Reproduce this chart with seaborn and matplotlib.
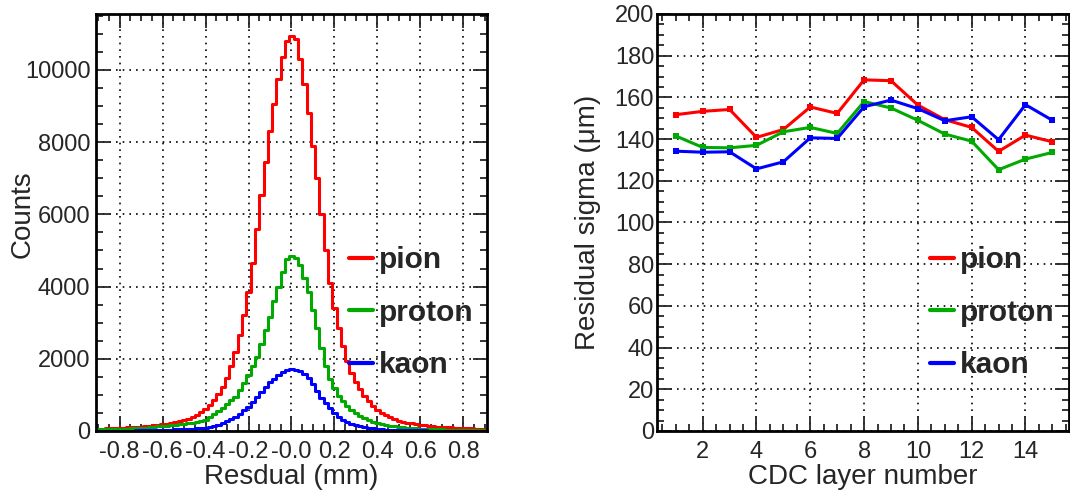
import numpy as np
import pandas as pd
import matplotlib
matplotlib.use("Agg")
import matplotlib.pyplot as plt
from matplotlib.lines import Line2D
from matplotlib.ticker import MultipleLocator
import seaborn as sns

# ---- left panel: residual histograms (bin width 0.02 mm) ----
bin_centers = np.round(np.arange(-0.90, 0.9001, 0.02), 2)
bin_edges = list(np.round(np.arange(-0.91, 0.9101, 0.02), 2))

pion_counts = [
    62, 66, 70, 74, 79, 84, 90, 97, 105, 114, 124, 134, 145, 157, 170, 185,
    200, 220, 245, 272, 305, 345, 390, 445, 520, 610, 720, 850, 1020, 1230,
    1480, 1790, 2180, 2650, 3200, 3850, 4650, 5600, 6550, 7450, 8300, 9050,
    9750, 10350, 10800, 10950,
    10850, 10300, 9600, 8800, 7900, 7000, 6000, 5000, 4100, 3400, 2850, 2350,
    1950, 1620, 1360, 1150, 980, 830, 700, 590, 500, 430, 375, 330, 290, 260,
    235, 212, 192, 175, 160, 146, 134, 123, 113, 105, 98, 92, 86, 81, 76, 72,
    68, 64, 60,
]
proton_counts = [
    42, 45, 48, 52, 56, 60, 64, 69, 74, 80, 87, 95, 104, 114, 126, 140,
    150, 160, 172, 185, 200, 215, 232, 252, 275, 300, 400, 470, 550, 640,
    740, 850, 950, 1130, 1330, 1560, 1800, 2050, 2400, 2800, 3150, 3600,
    4000, 4400, 4750, 4850,
    4800, 4600, 4250, 3850, 3350, 2850, 2300, 1800, 1450, 1200, 980, 820,
    690, 580, 490, 420, 360, 305, 260, 220, 190, 165, 145, 128, 112, 100,
    90, 80, 72, 65, 59, 54, 50, 46, 42, 39, 36, 33, 31, 29, 27, 25, 24, 22, 21,
]
kaon_counts = [
    6, 7, 7, 8, 9, 10, 11, 12, 13, 14, 16, 18, 20, 23, 26, 30,
    34, 38, 43, 48, 54, 60, 67, 74, 82, 92, 110, 135, 170, 215,
    270, 330, 400, 480, 570, 670, 790, 930, 1080, 1220, 1350, 1450,
    1560, 1640, 1700, 1720,
    1700, 1660, 1590, 1460, 1300, 1110, 920, 770, 630, 490, 380, 300,
    240, 195, 160, 130, 105, 85, 70, 57, 48, 41, 35, 30, 26, 23,
    20, 18, 16, 15, 14, 13, 12, 11, 10, 9, 9, 8, 8, 7, 7, 6, 6, 6, 5,
]
resid_xticks = [-0.8, -0.6, -0.4, -0.2, 0.0, 0.2, 0.4, 0.6, 0.8]
resid_xticklabels = ['-0.8', '-0.6', '-0.4', '-0.2', '-0.0', '0.2', '0.4', '0.6', '0.8']

# ---- right panel: residual sigma per CDC layer ----
layers = list(range(1, 16))
pion_sigma = [151.7, 153.3, 154.2, 140.8, 144.6, 155.4, 152.3, 168.4, 168.0,
              156.3, 149.3, 145.6, 134.1, 141.9, 138.7]
proton_sigma = [141.5, 136.0, 135.8, 137.0, 143.5, 145.6, 142.7, 158.0, 154.9,
                149.0, 142.4, 139.0, 125.3, 130.4, 133.6]
kaon_sigma = [134.2, 133.7, 133.9, 125.7, 129.1, 140.6, 140.3, 155.5, 158.7,
              154.6, 148.8, 150.7, 139.7, 156.5, 149.0]

particles = ['pion', 'proton', 'kaon']
colors = {'pion': '#ff0000', 'proton': '#00aa00', 'kaon': '#0000ff'}

sns.set_style("ticks")
plt.rcParams['font.family'] = ['Liberation Sans', 'DejaVu Sans']
plt.rcParams['xtick.direction'] = 'in'
plt.rcParams['ytick.direction'] = 'in'

fig = plt.figure(figsize=(10.7, 4.92), dpi=100)
ax1 = fig.add_axes([0.0897, 0.124, 0.3654, 0.8476])
ax2 = fig.add_axes([0.614, 0.124, 0.3846, 0.8476])

for name, counts in zip(particles, [pion_counts, proton_counts, kaon_counts]):
    hist_df = pd.DataFrame({'resid': bin_centers, 'count': counts})
    sns.histplot(data=hist_df, x='resid', weights='count', bins=bin_edges,
                 element='step', fill=False, color=colors[name],
                 linewidth=2.2, ax=ax1)

df = pd.DataFrame({
    'layer': layers * 3,
    'sigma': pion_sigma + proton_sigma + kaon_sigma,
    'particle': ['pion'] * 15 + ['proton'] * 15 + ['kaon'] * 15,
})
sns.lineplot(data=df, x='layer', y='sigma', hue='particle', palette=colors,
             marker='s', markersize=4.5, markeredgewidth=0, linewidth=2.2,
             legend=False, ax=ax2)


def root_style(ax):
    for s in ax.spines.values():
        s.set_linewidth(2)
        s.set_color('black')
    ax.tick_params(which='both', top=True, right=True, direction='in',
                   labelsize=17, width=1.3)
    ax.tick_params(which='major', length=10)
    ax.tick_params(which='minor', length=5)
    ax.tick_params(axis='x', pad=7)
    ax.grid(True, which='major', color='black', linestyle=(0, (1, 3)), linewidth=1.2)
    ax.set_axisbelow(True)


ax1.set_xlim(-0.91, 0.91)
ax1.set_ylim(0, 11550)
ax1.set_xticks(resid_xticks)
ax1.set_xticklabels(resid_xticklabels)
ax1.xaxis.set_minor_locator(MultipleLocator(0.05))
ax1.set_yticks([0, 2000, 4000, 6000, 8000, 10000])
ax1.yaxis.set_minor_locator(MultipleLocator(500))
root_style(ax1)
ax1.tick_params(axis='y', pad=4)
ax1.set_xlabel('Resdual (mm)', fontsize=20)
ax1.set_ylabel('Counts', fontsize=20)
ax1.xaxis.set_label_coords(0.5, -0.08)
ax1.yaxis.set_label_coords(-0.155, 0.52)

ax2.set_xlim(0.3, 15.6)
ax2.set_ylim(0, 200)
ax2.set_xticks([2, 4, 6, 8, 10, 12, 14])
ax2.xaxis.set_minor_locator(MultipleLocator(0.5))
ax2.set_yticks(range(0, 201, 20))
ax2.yaxis.set_minor_locator(MultipleLocator(5))
root_style(ax2)
ax2.tick_params(axis='y', pad=2)
ax2.set_xlabel('CDC layer number', fontsize=20)
ax2.set_ylabel('Residual sigma (\u03bcm)', fontsize=20)
ax2.xaxis.set_label_coords(0.5, -0.08)
ax2.yaxis.set_label_coords(-0.135, 0.5)

handles = [Line2D([], [], color=colors[p], linewidth=3) for p in particles]
for ax, x0 in [(ax1, 0.647), (ax2, 0.663)]:
    ax.legend(handles, particles, loc='upper left', bbox_to_anchor=(x0, 0.443),
              frameon=False, borderpad=0, borderaxespad=0, handlelength=0.8,
              handletextpad=0.2, labelspacing=0.82,
              prop={'weight': 'bold', 'size': 21.5})

fig.savefig('out.png', dpi=100)
